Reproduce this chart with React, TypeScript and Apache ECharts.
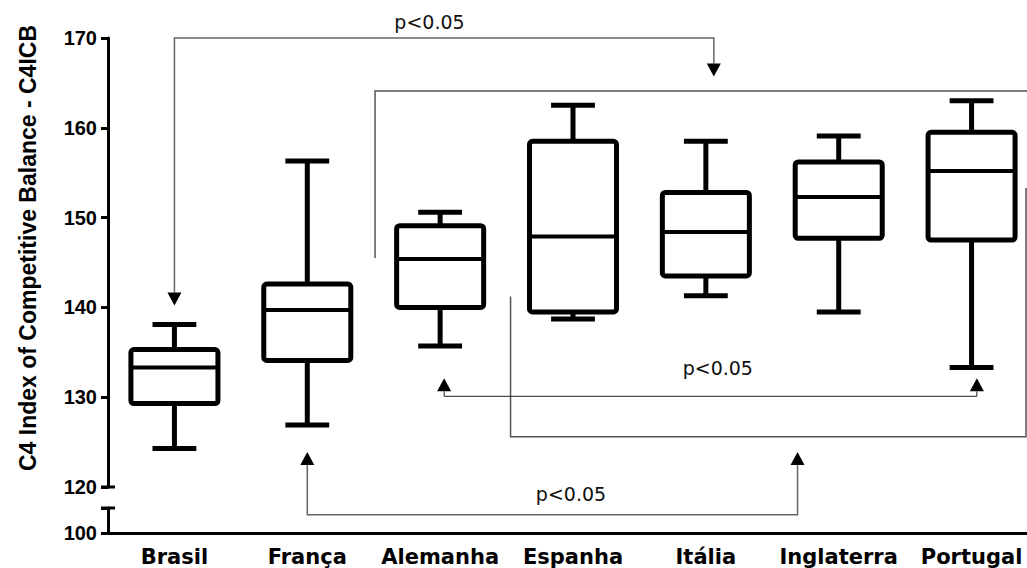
import React, { useEffect, useRef } from 'react';
import * as echarts from 'echarts';

// ---- data ----
const categories = ['Brasil', 'França', 'Alemanha', 'Espanha', 'Itália', 'Inglaterra', 'Portugal'];
const whiskerLow = [124.3, 126.9, 135.7, 138.7, 141.3, 139.5, 133.3];
const q1 = [129.3, 134.1, 140.0, 139.5, 143.5, 147.7, 147.5];
const medians = [133.3, 139.7, 145.4, 147.9, 148.4, 152.3, 155.2];
const q3 = [135.3, 142.6, 149.1, 158.5, 152.8, 156.2, 159.5];
const whiskerHigh = [138.1, 156.3, 150.6, 162.5, 158.5, 159.1, 163.0];

const upperMin = 120;
const upperMax = 170;
const upperStep = 10;
const lowerMin = 100;
const lowerMax = 103;

// significance brackets in data coordinates: [category index, value]
const bracketPaths: number[][][] = [
  [[0, 140.2], [0, 170], [4.06, 170], [4.06, 165.7]],
  [[1.51, 145.5], [1.51, 164.1], [6.8, 164.1]],
  [[2.53, 141.2], [2.53, 125.6], [6.41, 125.6], [6.41, 153.3]],
  [[2.03, 132.1], [2.03, 130.1], [6.04, 130.1], [6.04, 132.1]],
  [[1.0, 123.9], [1.0, 116.9], [4.69, 116.9], [4.69, 123.9]],
];
const bracketArrows = [[true, true], [false, false], [false, false], [true, true], [true, true]];
const pLabel = 'p<0.05';
const pLabelPos = [[1.92, 171.8], [4.09, 133.25], [2.985, 119.2]];

// styles
const bracketColors = ['#666', '#555', '#555', '#222', '#666'];
const bracketWidths = [1.5, 1.5, 1.5, 1, 1.5];

export default function App() {
  const ref = useRef<HTMLDivElement>(null);

  useEffect(() => {
    document.body.style.margin = '0';
    document.body.style.overflow = 'hidden';
    const chart = echarts.init(ref.current!, null, { renderer: 'svg' });

    const boxData = categories.map((_, i) => [i, whiskerLow[i], q1[i], medians[i], q3[i], whiskerHigh[i]]);

    const yLabel = {
      color: '#000',
      fontFamily: 'Liberation Sans',
      fontWeight: 'bold',
      fontSize: 20,
      margin: 11,
    };

    const option: any = {
      animation: false,
      backgroundColor: '#fff',
      grid: [
        { left: 108, right: 0, top: 38, height: 449 },
        { left: 108, right: 0, top: 508, height: 25 },
      ],
      xAxis: [
        { type: 'category', gridIndex: 0, data: categories, show: false },
        {
          type: 'category',
          gridIndex: 1,
          data: categories,
          axisLine: { lineStyle: { color: '#000', width: 3 } },
          axisTick: { alignWithLabel: true, length: 6, lineStyle: { color: '#000', width: 3 } },
          axisLabel: {
            color: '#000',
            fontFamily: 'DejaVu Sans',
            fontWeight: 'bold',
            fontSize: 21,
            margin: 13,
            interval: 0,
          },
        },
        { type: 'value', gridIndex: 0, min: -0.5, max: 6.5, show: false },
      ],
      yAxis: [
        {
          type: 'value',
          gridIndex: 0,
          min: upperMin,
          max: upperMax,
          interval: upperStep,
          splitLine: { show: false },
          axisLine: { show: true, onZero: false, lineStyle: { color: '#000', width: 3 } },
          axisTick: { show: true, length: 7, lineStyle: { color: '#000', width: 3 } },
          axisLabel: yLabel,
        },
        {
          type: 'value',
          gridIndex: 1,
          min: lowerMin,
          max: lowerMax,
          interval: lowerMax - lowerMin,
          splitLine: { show: false },
          axisLine: { show: true, onZero: false, lineStyle: { color: '#000', width: 3 } },
          axisTick: { show: true, length: 7, lineStyle: { color: '#000', width: 3 } },
          axisLabel: { ...yLabel, formatter: (v: number) => (v === lowerMin ? String(v) : '') },
        },
      ],
      series: [
        {
          type: 'custom',
          name: 'boxes',
          xAxisIndex: 0,
          yAxisIndex: 0,
          data: boxData,
          renderItem: (params: any, api: any) => {
            const x = api.value(0);
            const pLow = api.coord([x, api.value(1)]);
            const pQ1 = api.coord([x, api.value(2)]);
            const pMed = api.coord([x, api.value(3)]);
            const pQ3 = api.coord([x, api.value(4)]);
            const pHigh = api.coord([x, api.value(5)]);
            const band = api.size([1, 0])[0];
            const boxW = band * 0.655;
            const capW = band * 0.33;
            const cx = pMed[0];
            const stroke = { stroke: '#000', lineWidth: 5 };
            return {
              type: 'group',
              children: [
                { type: 'line', shape: { x1: cx, y1: pQ3[1], x2: cx, y2: pHigh[1] }, style: stroke },
                { type: 'line', shape: { x1: cx - capW / 2, y1: pHigh[1], x2: cx + capW / 2, y2: pHigh[1] }, style: stroke },
                { type: 'line', shape: { x1: cx, y1: pQ1[1], x2: cx, y2: pLow[1] }, style: stroke },
                { type: 'line', shape: { x1: cx - capW / 2, y1: pLow[1], x2: cx + capW / 2, y2: pLow[1] }, style: stroke },
                {
                  type: 'rect',
                  shape: { x: cx - boxW / 2, y: pQ3[1], width: boxW, height: pQ1[1] - pQ3[1], r: 3 },
                  style: { fill: '#fff', stroke: '#000', lineWidth: 5 },
                },
                { type: 'line', shape: { x1: cx - boxW / 2, y1: pMed[1], x2: cx + boxW / 2, y2: pMed[1] }, style: { stroke: '#000', lineWidth: 4 } },
              ],
            };
          },
        },
        {
          type: 'custom',
          name: 'brackets',
          xAxisIndex: 2,
          yAxisIndex: 0,
          clip: false,
          z: 5,
          data: bracketPaths.map((_, i) => [i, 150]),
          renderItem: (params: any, api: any) => {
            const i = params.dataIndex;
            const pts = bracketPaths[i].map((p) => api.coord(p));
            const line = pts.map((p: number[]) => [p[0], p[1]]);
            const children: any[] = [];
            const AH = 13;
            const AW = 7;
            const arrow = (tip: number[], from: number[]) => {
              const dx = tip[0] - from[0];
              const dy = tip[1] - from[1];
              const len = Math.sqrt(dx * dx + dy * dy) || 1;
              const ux = dx / len;
              const uy = dy / len;
              const bx = tip[0] - ux * AH;
              const by = tip[1] - uy * AH;
              children.push({
                type: 'polygon',
                shape: { points: [[tip[0], tip[1]], [bx - uy * AW, by + ux * AW], [bx + uy * AW, by - ux * AW]] },
                style: { fill: '#000' },
              });
              return [bx, by];
            };
            const [a0, a1] = bracketArrows[i];
            if (a0) line[0] = arrow(pts[0], pts[1]);
            if (a1) line[line.length - 1] = arrow(pts[pts.length - 1], pts[pts.length - 2]);
            children.unshift({
              type: 'polyline',
              shape: { points: line },
              style: { stroke: bracketColors[i], lineWidth: bracketWidths[i], fill: null },
            });
            if (i === 0 || i === 3 || i === 4) {
              const li = i === 0 ? 0 : i === 3 ? 1 : 2;
              const tp = api.coord(pLabelPos[li]);
              children.push({
                type: 'text',
                x: tp[0],
                y: tp[1],
                style: {
                  text: pLabel,
                  fill: '#111',
                  font: '19px "DejaVu Sans"',
                  align: 'center',
                  verticalAlign: 'middle',
                  textAlign: 'center',
                  textVerticalAlign: 'middle',
                },
              });
            }
            return { type: 'group', children };
          },
        },
      ],
    };

    chart.setOption(option);

    const xL = chart.convertToPixel({ xAxisIndex: 2 }, -0.5) as unknown as number;
    const yCapUpper = chart.convertToPixel({ yAxisIndex: 0 }, upperMin) as unknown as number;
    const yCapLower = chart.convertToPixel({ yAxisIndex: 1 }, lowerMax) as unknown as number;
    const capStyle = { stroke: '#000', lineWidth: 3 };
    chart.setOption({
      graphic: [
        { type: 'line', shape: { x1: xL - 7, y1: yCapUpper, x2: xL + 7, y2: yCapUpper }, style: capStyle },
        { type: 'line', shape: { x1: xL - 7, y1: yCapLower, x2: xL + 7, y2: yCapLower }, style: capStyle },
        {
          type: 'text',
          x: 28,
          y: 248,
          rotation: Math.PI / 2,
          style: {
            text: 'C4 Index of Competitive Balance - C4ICB',
            fill: '#000',
            font: 'bold 23px "Liberation Sans", Arial',
            align: 'center',
            verticalAlign: 'middle',
            textAlign: 'center',
            textVerticalAlign: 'middle',
          },
        },
      ],
    });

    return () => chart.dispose();
  }, []);

  return <div ref={ref} style={{ position: 'fixed', left: 0, top: 0, width: 1038, height: 568 }} />;
}
